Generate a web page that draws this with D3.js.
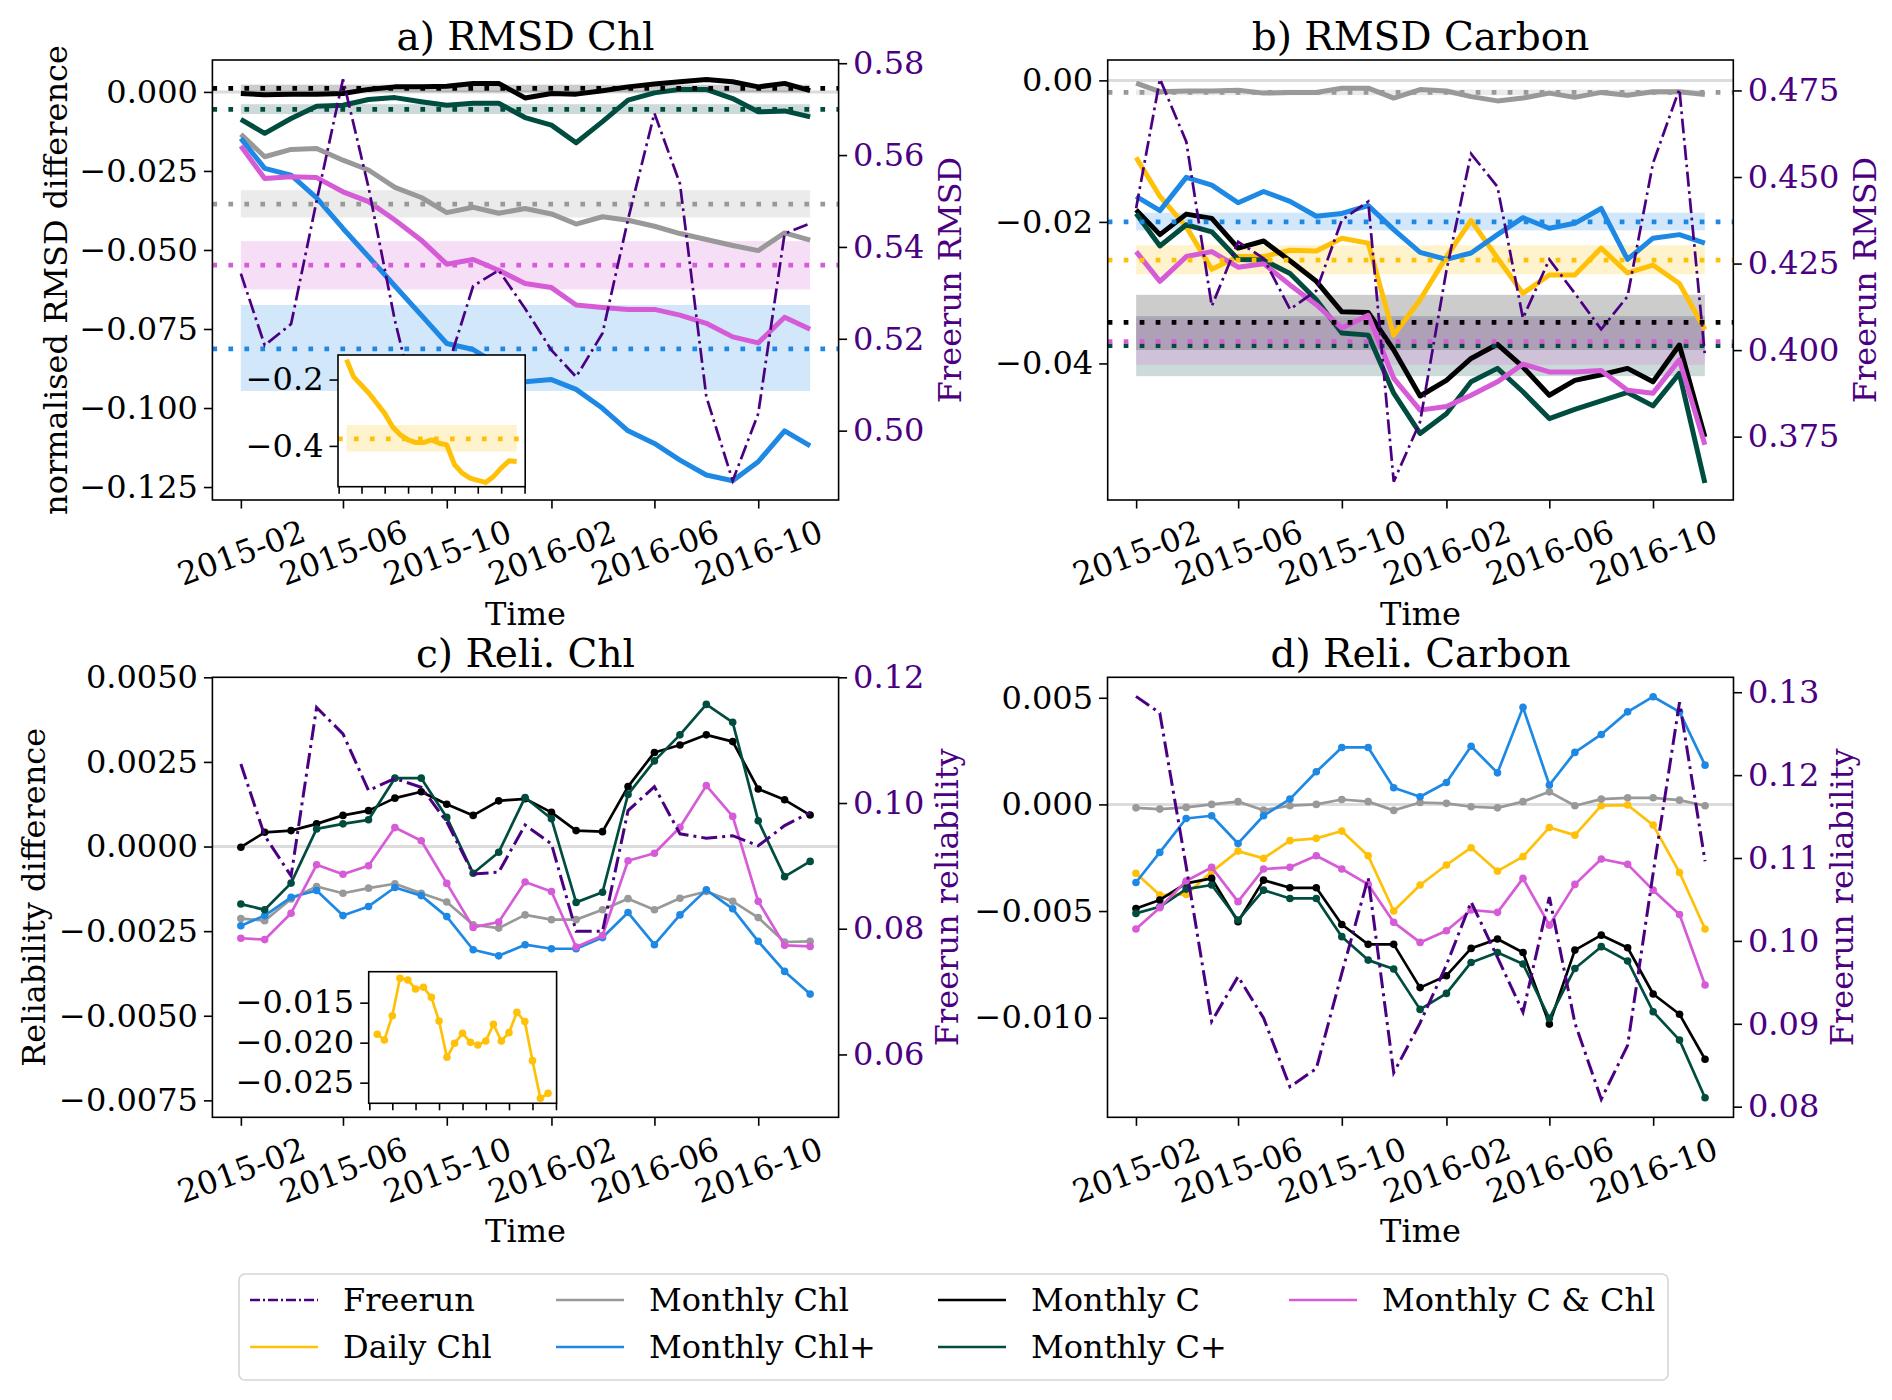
<!DOCTYPE html>
<html><head><meta charset="utf-8">
<script src="https://cdn.jsdelivr.net/npm/d3@7"></script>
<style>
body{margin:0;background:#fff}
svg text{font-family:"DejaVu Serif",serif;fill:#000}
</style>
</head><body>
<svg id="chart" width="1892" height="1400"></svg>
<script>
// ---------------- DATA ----------------
const months = ["2015-02","2015-03","2015-04","2015-05","2015-06","2015-07","2015-08","2015-09","2015-10","2015-11","2015-12",
  "2016-01","2016-02","2016-03","2016-04","2016-05","2016-06","2016-07","2016-08","2016-09","2016-10","2016-11","2016-12"];
const xTickLabels = ["2015-02","2015-06","2015-10","2016-02","2016-06","2016-10"];
const insetTickMonths = ["2015-01","2015-04","2015-07","2015-10","2016-01","2016-04","2016-07","2016-10","2017-01"];
const seriesNames = ["Freerun","Daily Chl","Monthly Chl","Monthly Chl+","Monthly C","Monthly C+","Monthly C & Chl"];

// a) RMSD Chl
const a_freerun = [0.5342,0.5186,0.5232,0.5500,0.5765,0.5530,0.5240,0.5005,0.5132,0.5315,0.5349,0.5266,0.5175,0.5117,0.5212,0.5460,0.5691,0.5538,0.5074,0.4891,0.5037,0.5429,0.5451];
const a_monthlyChl = [-0.0134,-0.0205,-0.0182,-0.0179,-0.0216,-0.0247,-0.0302,-0.0334,-0.0382,-0.0365,-0.0384,-0.0369,-0.0386,-0.0418,-0.0395,-0.0406,-0.0425,-0.0448,-0.0467,-0.0486,-0.0502,-0.0446,-0.0469];
const a_monthlyChlPlus = [-0.0147,-0.0242,-0.0263,-0.0335,-0.0432,-0.0521,-0.0614,-0.0706,-0.0796,-0.0815,-0.0864,-0.0917,-0.0910,-0.0941,-0.1001,-0.1072,-0.1112,-0.1165,-0.1212,-0.1230,-0.1170,-0.1072,-0.1120];
const a_monthlyC = [-0.0005,-0.0009,-0.0007,-0.0007,-0.0005,0.0008,0.0016,0.0016,0.0018,0.0027,0.0027,-0.0019,-0.0005,-0.0007,0.0004,0.0016,0.0025,0.0032,0.0039,0.0032,0.0016,0.0027,0.0004];
const a_monthlyCPlus = [-0.0087,-0.0131,-0.0084,-0.0045,-0.0042,-0.0024,-0.0018,-0.0031,-0.0042,-0.0036,-0.0036,-0.0081,-0.0105,-0.0161,-0.0094,-0.0026,-0.0003,0.0008,0.0008,-0.0021,-0.0063,-0.0060,-0.0079];
const a_monthlyCChl = [-0.0171,-0.0274,-0.0268,-0.0271,-0.0316,-0.0347,-0.0405,-0.0469,-0.0545,-0.0530,-0.0564,-0.0606,-0.0619,-0.0674,-0.0682,-0.0688,-0.0688,-0.0706,-0.0732,-0.0775,-0.0794,-0.0713,-0.0751];
const a_dailyChl = [-0.140,-0.192,-0.217,-0.242,-0.272,-0.302,-0.342,-0.367,-0.382,-0.390,-0.390,-0.382,-0.392,-0.397,-0.457,-0.482,-0.497,-0.504,-0.510,-0.492,-0.467,-0.445,-0.447];
const a_bandNames = ["Monthly Chl","Monthly Chl+","Monthly C","Monthly C+","Monthly C & Chl"];
const a_bandMean = [-0.0355,-0.0813,0.0011,-0.0055,-0.0548];
const a_bandLow  = [-0.0397,-0.0946,-0.0001,-0.0070,-0.0625];
const a_bandHigh = [-0.0311,-0.0674,0.0023,-0.0039,-0.0472];
const a_insetBand = [-0.417,-0.379,-0.337]; // low, mean, high
const a_leftTicks = [0,-0.025,-0.05,-0.075,-0.1,-0.125];
const a_rightTicks = [0.50,0.52,0.54,0.56,0.58];
const a_insetTicks = [-0.2,-0.4];

// b) RMSD Carbon
const b_freerun = [0.4410,0.4783,0.4602,0.4127,0.4313,0.4265,0.4118,0.4172,0.4376,0.4429,0.3620,0.3793,0.4230,0.4567,0.4472,0.4092,0.4262,0.4164,0.4060,0.4155,0.4540,0.4754,0.3986];
const b_dailyChl = [-0.0109,-0.0164,-0.0207,-0.0267,-0.0249,-0.0249,-0.0240,-0.0241,-0.0223,-0.0230,-0.0360,-0.0310,-0.0249,-0.0198,-0.0251,-0.0301,-0.0275,-0.0275,-0.0237,-0.0272,-0.0261,-0.0287,-0.0352];
const b_monthlyChl = [-0.0004,-0.0016,-0.0015,-0.0015,-0.0014,-0.0018,-0.0017,-0.0017,-0.0011,-0.0011,-0.0025,-0.0013,-0.0015,-0.0023,-0.0029,-0.0025,-0.0018,-0.0024,-0.0017,-0.0021,-0.0016,-0.0016,-0.0020];
const b_monthlyChlPlus = [-0.0164,-0.0184,-0.0137,-0.0148,-0.0173,-0.0157,-0.0171,-0.0192,-0.0188,-0.0177,-0.0211,-0.0243,-0.0253,-0.0244,-0.0218,-0.0194,-0.0209,-0.0202,-0.0181,-0.0253,-0.0223,-0.0218,-0.0230];
const b_monthlyC = [-0.0183,-0.0218,-0.0189,-0.0195,-0.0237,-0.0227,-0.0255,-0.0284,-0.0327,-0.0328,-0.0381,-0.0446,-0.0424,-0.0393,-0.0373,-0.0405,-0.0445,-0.0424,-0.0416,-0.0407,-0.0426,-0.0374,-0.0504];
const b_monthlyCPlus = [-0.0188,-0.0234,-0.0204,-0.0214,-0.0253,-0.0254,-0.0273,-0.0310,-0.0357,-0.0360,-0.0442,-0.0499,-0.0471,-0.0426,-0.0407,-0.0440,-0.0478,-0.0465,-0.0453,-0.0441,-0.0460,-0.0414,-0.0569];
const b_monthlyCChl = [-0.0242,-0.0284,-0.0249,-0.0242,-0.0264,-0.0259,-0.0289,-0.0317,-0.0350,-0.0332,-0.0421,-0.0466,-0.0461,-0.0445,-0.0426,-0.0401,-0.0412,-0.0412,-0.0410,-0.0438,-0.0442,-0.0395,-0.0515];
const b_bandNames = ["Monthly Chl","Monthly Chl+","Daily Chl","Monthly C","Monthly C+","Monthly C & Chl"];
const b_bandMean = [-0.0017,-0.0200,-0.0254,-0.0342,-0.0375,-0.0369];
const b_bandLow  = [-0.0021,-0.0212,-0.0274,-0.0381,-0.0418,-0.0402];
const b_bandHigh = [-0.0013,-0.0187,-0.0233,-0.0303,-0.0333,-0.0336];
const b_leftTicks = [0,-0.02,-0.04];
const b_rightTicks = [0.375,0.400,0.425,0.450,0.475];

// c) Reli. Chl
const c_freerun = [0.1062,0.0948,0.0884,0.1152,0.1110,0.1020,0.1039,0.1025,0.0970,0.0887,0.0890,0.0965,0.0935,0.0796,0.0796,0.0988,0.1026,0.0951,0.0944,0.0948,0.0932,0.0964,0.0985];
const c_monthlyChl = [-0.00213,-0.00219,-0.00155,-0.00118,-0.00138,-0.00123,-0.00110,-0.00138,-0.00164,-0.00231,-0.00241,-0.00202,-0.00216,-0.00216,-0.00187,-0.00154,-0.00187,-0.00153,-0.00133,-0.00162,-0.00210,-0.00282,-0.00280];
const c_monthlyChlPlus = [-0.00234,-0.00204,-0.00150,-0.00130,-0.00204,-0.00177,-0.00121,-0.00145,-0.00207,-0.00305,-0.00323,-0.00290,-0.00302,-0.00302,-0.00269,-0.00195,-0.00290,-0.00202,-0.00128,-0.00184,-0.00280,-0.00369,-0.00436];
const c_monthlyC = [-0.00002,0.00042,0.00047,0.00067,0.00092,0.00106,0.00143,0.00162,0.00125,0.00092,0.00135,0.00141,0.00101,0.00047,0.00044,0.00177,0.00278,0.00300,0.00330,0.00310,0.00170,0.00138,0.00093];
const c_monthlyCPlus = [-0.00170,-0.00187,-0.00108,0.00052,0.00067,0.00079,0.00202,0.00202,0.00086,-0.00079,-0.00017,0.00145,0.00082,-0.00165,-0.00135,0.00154,0.00253,0.00330,0.00420,0.00367,0.00076,-0.00089,-0.00044];
const c_monthlyCChl = [-0.00271,-0.00275,-0.00197,-0.00054,-0.00082,-0.00057,0.00056,0.00017,-0.00109,-0.00239,-0.00223,-0.00105,-0.00133,-0.00297,-0.00263,-0.00042,-0.00020,0.00057,0.00180,0.00089,-0.00162,-0.00292,-0.00295];
const c_dailyChl = [-0.01895,-0.01966,-0.01663,-0.01195,-0.01216,-0.01329,-0.01308,-0.01433,-0.01729,-0.02183,-0.02008,-0.01883,-0.01996,-0.02029,-0.01979,-0.01771,-0.01979,-0.01875,-0.01621,-0.01737,-0.02225,-0.02696,-0.02633];
const c_leftTicks = [0.005,0.0025,0,-0.0025,-0.005,-0.0075];
const c_rightTicks = [0.06,0.08,0.10,0.12];
const c_insetTicks = [-0.015,-0.020,-0.025];

// d) Reli. Carbon
const d_freerun = [0.1295,0.1275,0.1090,0.0903,0.0957,0.0907,0.0824,0.0846,0.0961,0.1076,0.0841,0.0901,0.0971,0.1047,0.0980,0.0914,0.1053,0.0901,0.0809,0.0874,0.1082,0.1288,0.1096];
const d_dailyChl = [-0.00323,-0.00425,-0.00422,-0.00316,-0.00219,-0.00253,-0.00170,-0.00159,-0.00125,-0.00241,-0.00500,-0.00378,-0.00284,-0.00203,-0.00313,-0.00245,-0.00108,-0.00144,-0.00006,-0.00003,-0.00097,-0.00319,-0.00584];
const d_monthlyChl = [-0.00016,-0.00022,-0.00014,0.00000,0.00013,-0.00027,-0.00006,0.00000,0.00023,0.00013,-0.00028,0.00009,0.00005,-0.00011,-0.00016,0.00013,0.00059,-0.00006,0.00025,0.00031,0.00031,0.00020,-0.00006];
const d_monthlyChlPlus = [-0.00366,-0.00225,-0.00066,-0.00053,-0.00183,-0.00053,0.00025,0.00153,0.00267,0.00267,0.00078,0.00036,0.00103,0.00273,0.00148,0.00455,0.00091,0.00244,0.00328,0.00434,0.00505,0.00434,0.00184];
const d_monthlyC = [-0.00488,-0.00448,-0.00370,-0.00347,-0.00550,-0.00355,-0.00391,-0.00391,-0.00563,-0.00656,-0.00656,-0.00859,-0.00803,-0.00675,-0.00631,-0.00694,-0.01030,-0.00683,-0.00613,-0.00672,-0.00889,-0.00984,-0.01195];
const d_monthlyCPlus = [-0.00511,-0.00480,-0.00397,-0.00378,-0.00542,-0.00402,-0.00441,-0.00441,-0.00620,-0.00730,-0.00772,-0.00961,-0.00886,-0.00741,-0.00694,-0.00748,-0.01003,-0.00769,-0.00667,-0.00734,-0.00972,-0.01105,-0.01375];
const d_monthlyCChl = [-0.00584,-0.00484,-0.00359,-0.00295,-0.00456,-0.00303,-0.00295,-0.00241,-0.00303,-0.00375,-0.00553,-0.00647,-0.00592,-0.00495,-0.00506,-0.00347,-0.00566,-0.00375,-0.00256,-0.00281,-0.00402,-0.00516,-0.00847];
const d_leftTicks = [0.005,0,-0.005,-0.010];
const d_rightTicks = [0.08,0.09,0.10,0.11,0.12,0.13];

// ---------------- STYLE ----------------
const colors = {
  "Freerun":"#4B0082","Daily Chl":"#FFC107","Monthly Chl":"#999999","Monthly Chl+":"#1E88E5",
  "Monthly C":"#000000","Monthly C+":"#004D40","Monthly C & Chl":"#D65BD6"
};
const FS = 32, TFS = 39;
const parse = d3.utcParse("%Y-%m");
const dates = months.map(parse);
const t0 = dates[0], t1 = dates[dates.length-1];
const span = t1 - t0;
const xDomain = [new Date(+t0 - 0.05*span), new Date(+t1 + 0.05*span)];
const svg = d3.select("#chart");
svg.append("rect").attr("width",1892).attr("height",1400).attr("fill","#fff");

function styleAxis(g, color){
  g.select(".domain").remove();
  g.selectAll(".tick line").attr("stroke","#000").attr("stroke-width",1.6);
  g.selectAll(".tick text").style("font-size",FS+"px").style("fill",color||"#000");
}

function drawSeries(g, x, y, name, vals, lw, markers){
  const data = vals.map((v,i)=>({d:dates[i],v}));
  const line = d3.line().x(p=>x(p.d)).y(p=>y(p.v));
  g.append("path").datum(data).attr("d",line).attr("fill","none")
    .attr("stroke",colors[name]).attr("stroke-width",lw).attr("stroke-linejoin","round");
  if(markers){
    g.selectAll(null).data(data).enter().append("circle")
      .attr("cx",p=>x(p.d)).attr("cy",p=>y(p.v)).attr("r",3.8).attr("fill",colors[name]);
  }
}

function drawPanel(cfg){
  const {x0,x1,y0,y1} = cfg.box;
  const x = d3.scaleUtc().domain(xDomain).range([x0,x1]);
  const yL = d3.scaleLinear().domain(cfg.leftDomain).range([y1,y0]);
  const yR = d3.scaleLinear().domain(cfg.rightDomain).range([y1,y0]);
  const g = svg.append("g");
  g.append("line").attr("x1",x0).attr("x2",x1).attr("y1",yL(0)).attr("y2",yL(0))
    .attr("stroke","#dcdcdc").attr("stroke-width",3);
  if(cfg.bands){
    const b = cfg.bands;
    b.names.forEach((n,i)=>{
      g.append("rect").attr("x",x(t0)).attr("width",x(t1)-x(t0))
        .attr("y",yL(b.high[i])).attr("height",yL(b.low[i])-yL(b.high[i]))
        .attr("fill",colors[n]).attr("fill-opacity",0.2);
    });
  }
  cfg.series.forEach(s=>drawSeries(g,x,yL,s.name,s.values,cfg.lw,cfg.markers));
  if(cfg.bands){
    const b = cfg.bands;
    b.names.forEach((n,i)=>{
      g.append("line").attr("x1",x0).attr("x2",x1).attr("y1",yL(b.mean[i])).attr("y2",yL(b.mean[i]))
        .attr("stroke",colors[n]).attr("stroke-width",4.7).attr("stroke-dasharray","4.7,11.3");
    });
  }
  if(cfg.inset) drawInset(cfg.inset, cfg.lw, cfg.markers);
  const fr = cfg.freerun.map((v,i)=>({d:dates[i],v}));
  g.append("path").datum(fr).attr("d",d3.line().x(p=>x(p.d)).y(p=>yR(p.v)))
    .attr("fill","none").attr("stroke",colors["Freerun"]).attr("stroke-width",cfg.frw)
    .attr("stroke-dasharray",cfg.frDash);
  g.append("rect").attr("x",x0).attr("y",y0).attr("width",x1-x0).attr("height",y1-y0)
    .attr("fill","none").attr("stroke","#000").attr("stroke-width",1.6);
  const fmtL = d3.format(cfg.leftFmt), fmtR = d3.format(cfg.rightFmt);
  const gl = g.append("g").attr("transform",`translate(${x0},0)`)
    .call(d3.axisLeft(yL).tickValues(cfg.leftTicks).tickFormat(fmtL).tickSize(8.5).tickSizeOuter(0).tickPadding(6));
  styleAxis(gl);
  const gr = g.append("g").attr("transform",`translate(${x1},0)`)
    .call(d3.axisRight(yR).tickValues(cfg.rightTicks).tickFormat(fmtR).tickSize(8.5).tickSizeOuter(0).tickPadding(6));
  styleAxis(gr, colors["Freerun"]);
  const gx = g.append("g").attr("transform",`translate(0,${y1})`)
    .call(d3.axisBottom(x).tickValues(xTickLabels.map(parse)).tickFormat(d3.utcFormat("%Y-%m")).tickSize(8.5).tickSizeOuter(0));
  styleAxis(gx);
  gx.selectAll(".tick text").attr("y",0).attr("dy",null).attr("dominant-baseline","central")
    .attr("text-anchor","middle").attr("transform","translate(0,53) rotate(-20)");
  g.append("text").attr("x",(x0+x1)/2).attr("y",y1+125).attr("text-anchor","middle")
    .style("font-size",FS+"px").text("Time");
  g.append("text").attr("x",(x0+x1)/2).attr("y",y0-10).attr("text-anchor","middle")
    .style("font-size",TFS+"px").text(cfg.title);
  if(cfg.leftLabel){
    g.append("text").attr("transform",`translate(${cfg.leftLabelX},${(y0+y1)/2}) rotate(-90)`)
      .attr("text-anchor","middle").style("font-size",FS+"px").text(cfg.leftLabel);
  }
  g.append("text").attr("transform",`translate(${cfg.rightLabelX},${(y0+y1)/2}) rotate(-90)`)
    .attr("text-anchor","middle").style("font-size",FS+"px").style("fill",colors["Freerun"]).text(cfg.rightLabel);
}

function drawInset(ins, lw, markers){
  const {x0,x1,y0,y1} = ins.box;
  const x = d3.scaleUtc().domain(xDomain).range([x0,x1]);
  const y = d3.scaleLinear().domain(ins.domain).range([y1,y0]);
  const g = svg.append("g");
  g.append("rect").attr("x",x0).attr("y",y0).attr("width",x1-x0).attr("height",y1-y0).attr("fill","#fff");
  if(ins.band){
    g.append("rect").attr("x",x(t0)).attr("width",x(t1)-x(t0))
      .attr("y",y(ins.band[2])).attr("height",y(ins.band[0])-y(ins.band[2]))
      .attr("fill",colors["Daily Chl"]).attr("fill-opacity",0.2);
  }
  drawSeries(g,x,y,"Daily Chl",ins.values,lw,markers);
  if(ins.band){
    g.append("line").attr("x1",x0).attr("x2",x1).attr("y1",y(ins.band[1])).attr("y2",y(ins.band[1]))
      .attr("stroke",colors["Daily Chl"]).attr("stroke-width",4.7).attr("stroke-dasharray","4.7,11.3");
  }
  g.append("rect").attr("x",x0).attr("y",y0).attr("width",x1-x0).attr("height",y1-y0)
    .attr("fill","none").attr("stroke","#000").attr("stroke-width",1.6);
  const gl = g.append("g").attr("transform",`translate(${x0},0)`)
    .call(d3.axisLeft(y).tickValues(ins.ticks).tickFormat(d3.format(ins.fmt)).tickSize(8.5).tickSizeOuter(0).tickPadding(6));
  styleAxis(gl);
  const gx = g.append("g").attr("transform",`translate(0,${y1})`)
    .call(d3.axisBottom(x).tickValues(insetTickMonths.map(parse)).tickFormat("").tickSize(7).tickSizeOuter(0));
  styleAxis(gx);
}

const dashA = "15,4.5,2.7,4.5";
const dashC = "16,5,3,5";

drawPanel({
  box:{x0:212.4,x1:838.6,y0:60,y1:500}, leftDomain:[-0.1291,0.0101], rightDomain:[0.4849,0.5807],
  leftTicks:a_leftTicks, rightTicks:a_rightTicks, leftFmt:".3f", rightFmt:".2f",
  title:"a) RMSD Chl", leftLabel:"normalised RMSD difference", leftLabelX:67,
  rightLabel:"Freerun RMSD", rightLabelX:961, lw:5, markers:false, frw:2.7, frDash:dashA,
  series:[
    {name:"Monthly Chl",values:a_monthlyChl},{name:"Monthly Chl+",values:a_monthlyChlPlus},
    {name:"Monthly C",values:a_monthlyC},{name:"Monthly C+",values:a_monthlyCPlus},
    {name:"Monthly C & Chl",values:a_monthlyCChl}],
  bands:{names:a_bandNames,mean:a_bandMean,low:a_bandLow,high:a_bandHigh},
  freerun:a_freerun,
  inset:{box:{x0:338,x1:525.2,y0:355,y1:486.7},domain:[-0.523,-0.126],ticks:a_insetTicks,fmt:".1f",
    values:a_dailyChl,band:a_insetBand}
});
drawPanel({
  box:{x0:1107.7,x1:1733.3,y0:60,y1:500}, leftDomain:[-0.0593,0.00288], rightDomain:[0.3567,0.4838],
  leftTicks:b_leftTicks, rightTicks:b_rightTicks, leftFmt:".2f", rightFmt:".3f",
  title:"b) RMSD Carbon", leftLabel:null,
  rightLabel:"Freerun RMSD", rightLabelX:1876, lw:5, markers:false, frw:2.7, frDash:dashA,
  series:[
    {name:"Daily Chl",values:b_dailyChl},
    {name:"Monthly Chl",values:b_monthlyChl},{name:"Monthly Chl+",values:b_monthlyChlPlus},
    {name:"Monthly C",values:b_monthlyC},{name:"Monthly C+",values:b_monthlyCPlus},
    {name:"Monthly C & Chl",values:b_monthlyCChl}],
  bands:{names:b_bandNames,mean:b_bandMean,low:b_bandLow,high:b_bandHigh},
  freerun:b_freerun
});
drawPanel({
  box:{x0:212.4,x1:838.6,y0:677.3,y1:1117.3}, leftDomain:[-0.0080,0.0050], rightDomain:[0.05,0.12],
  leftTicks:c_leftTicks, rightTicks:c_rightTicks, leftFmt:".4f", rightFmt:".2f",
  title:"c) Reli. Chl", leftLabel:"Reliability difference", leftLabelX:45,
  rightLabel:"Freerun reliability", rightLabelX:958, lw:2.7, markers:true, frw:3, frDash:dashC,
  series:[
    {name:"Monthly Chl",values:c_monthlyChl},{name:"Monthly Chl+",values:c_monthlyChlPlus},
    {name:"Monthly C",values:c_monthlyC},{name:"Monthly C+",values:c_monthlyCPlus},
    {name:"Monthly C & Chl",values:c_monthlyCChl}],
  freerun:c_freerun,
  inset:{box:{x0:368.7,x1:556.6,y0:971.7,y1:1103.3},domain:[-0.02758,-0.01113],ticks:c_insetTicks,fmt:".3f",
    values:c_dailyChl,band:null}
});
drawPanel({
  box:{x0:1107.5,x1:1733.5,y0:677.3,y1:1117.3}, leftDomain:[-0.01467,0.00596], rightDomain:[0.07872,0.1318],
  leftTicks:d_leftTicks, rightTicks:d_rightTicks, leftFmt:".3f", rightFmt:".2f",
  title:"d) Reli. Carbon", leftLabel:null,
  rightLabel:"Freerun reliability", rightLabelX:1853, lw:2.7, markers:true, frw:3, frDash:dashC,
  series:[
    {name:"Daily Chl",values:d_dailyChl},
    {name:"Monthly Chl",values:d_monthlyChl},{name:"Monthly Chl+",values:d_monthlyChlPlus},
    {name:"Monthly C",values:d_monthlyC},{name:"Monthly C+",values:d_monthlyCPlus},
    {name:"Monthly C & Chl",values:d_monthlyCChl}],
  freerun:d_freerun
});

// ---------------- LEGEND ----------------
const legendCols = [250,556,938,1289];
const legendRows = [1300,1347];
const lg = svg.append("g");
lg.append("rect").attr("x",239).attr("y",1274).attr("width",1429).attr("height",106).attr("rx",6)
  .attr("fill","#fff").attr("stroke","#d5d5d5").attr("stroke-width",1.6);
seriesNames.forEach((n,i)=>{
  const cx = legendCols[Math.floor(i/2)], cy = legendRows[i%2];
  lg.append("line").attr("x1",cx).attr("x2",cx+68).attr("y1",cy).attr("y2",cy)
    .attr("stroke",colors[n]).attr("stroke-width",2.7)
    .attr("stroke-dasharray",n==="Freerun"?"10,3,2,3":null);
  lg.append("text").attr("x",cx+93).attr("y",cy).attr("dominant-baseline","central")
    .style("font-size",FS+"px").text(n);
});
</script>
</body></html>
